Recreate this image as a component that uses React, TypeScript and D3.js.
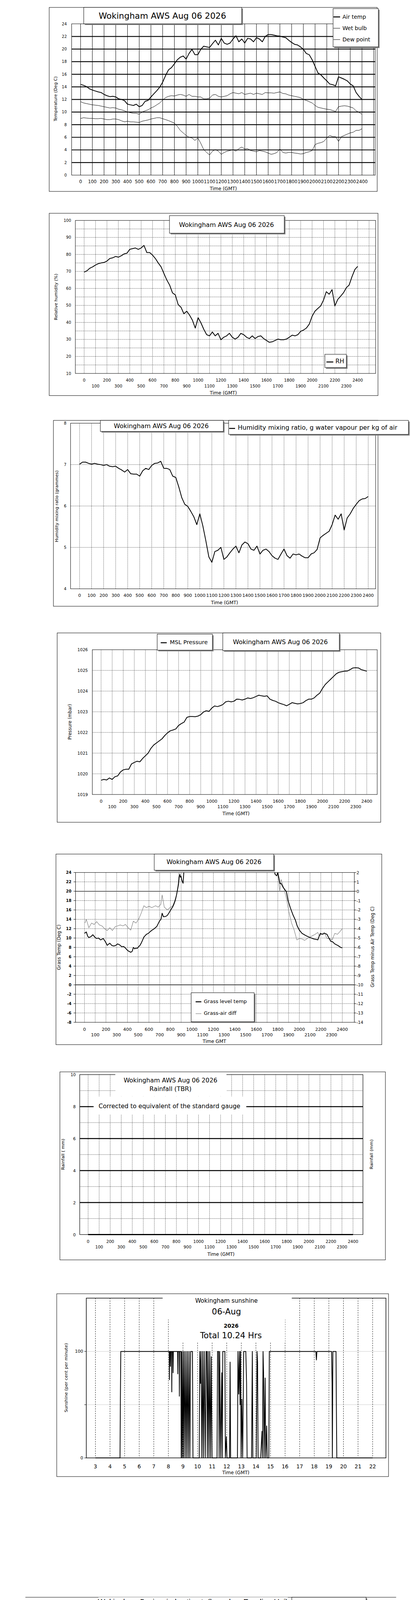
import { useEffect, useRef } from "react";
import * as d3 from "d3";

// ── Shared text / ticks ─────────────────────────────────────────────────────

const SANS = "'DejaVu Sans', sans-serif";
const ARIAL = "'Liberation Sans', Arial, sans-serif";
const TITLE = "Wokingham AWS Aug 06 2026";

const quarterTimes = d3.range(0, 2401, 25); // 15-min samples, hhmm units
const hhmmTicks = d3.range(0, 2501, 100);
const tempTicks = d3.range(0, 25, 2);
const rhTicks = d3.range(10, 101, 10);
const mixTicks = [4, 5, 6, 7, 8];
const presTicks = d3.range(1019, 1027, 1);
const grassTicks = d3.range(-8, 25, 2);
const diffTicks = d3.range(-14, 3, 1);
const rainTicks = d3.range(0, 11, 2);
const sunHours = d3.range(3, 23, 1);
const degTicks = d3.range(0, 401, 20);
const knotTicks = d3.range(0, 41, 2);

// ── Temperatures (deg C) every 15 min ───────────────────────────────────────

const airTemp = [
  14.4, 14.25, 14.05, 13.7, 13.5, 13.35, 13.2, 13.1, 12.8, 12.6, 12.45, 12.5,
  12.4, 12.1, 12.0, 11.8, 11.25, 11.15, 11.05, 11.25, 10.85, 11.05, 11.7, 11.85,
  12.4, 12.9, 13.4, 13.95, 14.75, 15.8, 16.7, 17.05, 17.65, 18.3, 18.7, 18.9,
  18.4, 19.3, 19.95, 19.1, 19.1, 19.95, 20.45, 20.35, 20.25, 20.85, 21.4, 20.65,
  21.7, 20.95, 20.75, 20.95, 21.6, 22.1, 21.15, 21.6, 20.95, 21.7, 21.6, 21.15,
  21.8, 21.6, 21.15, 22.0, 22.3, 22.3, 22.2, 22.1, 22.05, 21.9, 21.8, 21.4,
  21.05, 20.75, 20.65, 20.35, 19.95, 19.3, 19.1, 18.3, 17.25, 16.2, 15.9, 15.4,
  14.95, 14.45, 14.35, 14.15, 15.6, 15.4, 15.2, 14.95, 14.45, 14.15, 13.1, 12.5,
  12.0,
];

const wetBulb = [
  11.65, 11.45, 11.35, 11.25, 11.15, 11.1, 11.05, 10.95, 10.85, 10.75, 10.65, 10.7,
  10.65, 10.45, 10.35, 10.2, 10.0, 9.9, 9.8, 9.8, 9.65, 10.0, 10.2, 10.35,
  10.65, 10.85, 11.15, 11.45, 11.9, 12.3, 12.5, 12.6, 12.55, 12.7, 12.8, 12.7,
  12.5, 12.8, 12.5, 12.5, 12.4, 12.4, 12.1, 12.1, 12.2, 12.7, 12.8, 12.5,
  12.4, 12.5, 12.6, 12.9, 13.1, 13.0, 12.9, 13.1, 12.8, 12.9, 13.0, 12.8,
  13.0, 12.9, 12.8, 13.1, 13.05, 13.05, 13.0, 13.1, 13.2, 12.95, 12.9, 12.7,
  12.6, 12.5, 12.4, 12.3, 12.0, 11.85, 11.65, 11.45, 11.05, 10.75, 10.65, 10.55,
  10.45, 10.4, 10.25, 10.1, 10.85, 10.95, 11.0, 10.95, 10.8, 10.65, 10.2, 9.95,
  9.65,
];

const dewPoint = [
  8.98, 9.1, 9.05, 9.0, 9.0, 8.95, 8.95, 9.0, 8.9, 8.8, 8.8, 8.9,
  8.9, 8.8, 8.6, 8.45, 8.55, 8.45, 8.45, 8.4, 8.35, 8.55, 8.65, 8.75,
  8.9, 9.0, 9.1, 9.1, 8.95, 8.8, 8.65, 8.45, 8.25, 7.75, 7.1, 6.7,
  6.3, 6.0, 5.9, 5.5, 5.9, 5.05, 4.05, 3.6, 3.2, 3.8, 4.05, 3.8,
  3.3, 3.6, 3.8, 3.9, 4.05, 3.8, 4.2, 4.45, 4.15, 4.2, 3.9, 3.8,
  3.7, 3.9, 3.8, 3.7, 3.5, 3.3, 3.4, 3.6, 4.15, 3.6, 3.5, 3.6,
  3.6, 3.5, 3.45, 3.35, 3.4, 3.6, 3.7, 3.9, 4.85, 5.05, 5.15, 5.35,
  5.9, 6.3, 6.1, 6.1, 5.35, 6.1, 6.3, 6.5, 6.7, 6.8, 7.1, 7.1,
  7.35,
];

// ── Relative humidity (%) every 15 min ──────────────────────────────────────

const relHumidity = [
  69.6, 70.4, 71.9, 72.7, 73.8, 74.6, 75.0, 75.3, 76.1, 77.6, 78.0, 78.8,
  78.4, 79.2, 80.3, 80.7, 83.0, 83.4, 83.8, 83.0, 83.8, 85.3, 81.1, 81.1,
  79.6, 77.6, 75.0, 72.7, 68.8, 65.0, 62.0, 57.4, 56.2, 50.5, 48.9, 45.1,
  46.6, 44.3, 41.3, 36.7, 42.8, 39.7, 35.9, 32.8, 32.1, 34.4, 32.1, 33.6,
  29.8, 31.3, 32.1, 33.6, 31.3, 30.2, 31.3, 33.6, 32.8, 31.3, 30.5, 32.1,
  30.5, 31.7, 32.1, 30.5, 29.4, 28.3, 28.6, 29.4, 30.2, 29.8, 29.8, 30.2,
  31.3, 32.5, 32.1, 32.8, 34.8, 35.5, 36.7, 39.0, 43.6, 46.6, 48.2, 49.7,
  53.1, 58.1, 56.6, 59.3, 49.7, 53.5, 55.4, 57.4, 60.4, 62.0, 66.9, 71.1,
  73.0,
];

// ── Mixing ratio (g/kg) every 15 min ────────────────────────────────────────

const mixingRatio = [
  7.01, 7.06, 7.06, 7.03, 7.01, 7.03, 7.01, 7.0, 6.98, 7.0, 6.96, 6.95,
  6.96, 6.91, 6.87, 6.82, 6.88, 6.78, 6.77, 6.77, 6.72, 6.85, 6.91, 6.88,
  6.98, 7.03, 7.04, 7.08, 6.91, 6.91, 6.88, 6.72, 6.69, 6.46, 6.2, 6.04,
  5.99, 5.87, 5.74, 5.55, 5.81, 5.52, 5.16, 4.77, 4.64, 4.9, 4.93, 5.0,
  4.71, 4.77, 4.87, 4.96, 5.03, 4.87, 5.06, 5.13, 5.09, 4.96, 4.93, 5.03,
  4.84, 4.93, 4.96, 4.9, 4.8, 4.74, 4.71, 4.84, 4.96, 4.8, 4.74, 4.84,
  4.82, 4.84, 4.79, 4.75, 4.75, 4.84, 4.87, 4.95, 5.23, 5.29, 5.34, 5.39,
  5.55, 5.78, 5.68, 5.81, 5.42, 5.71, 5.81, 5.94, 6.04, 6.13, 6.17, 6.18,
  6.23,
];

// ── MSL pressure (mbar) every 15 min ────────────────────────────────────────

const mslPressure = [
  1019.69, 1019.73, 1019.7, 1019.8, 1019.73, 1019.86, 1019.9, 1020.09,
  1020.19, 1020.22, 1020.22, 1020.48, 1020.55, 1020.61, 1020.58, 1020.74,
  1020.87, 1021.0, 1021.23, 1021.39, 1021.49, 1021.59, 1021.69, 1021.85,
  1021.98, 1022.08, 1022.12, 1022.17, 1022.34, 1022.43, 1022.5, 1022.73,
  1022.77, 1022.77, 1022.76, 1022.79, 1022.86, 1022.99, 1023.05, 1023.02,
  1023.18, 1023.28, 1023.25, 1023.29, 1023.35, 1023.48, 1023.51, 1023.48,
  1023.51, 1023.61, 1023.6, 1023.57, 1023.61, 1023.67, 1023.64, 1023.68,
  1023.74, 1023.8, 1023.77, 1023.75, 1023.77, 1023.61, 1023.55, 1023.51,
  1023.44, 1023.39, 1023.35, 1023.29, 1023.36, 1023.44, 1023.41, 1023.38,
  1023.4, 1023.44, 1023.54, 1023.61, 1023.61, 1023.67, 1023.8, 1023.9,
  1024.13, 1024.32, 1024.45, 1024.58, 1024.71, 1024.84, 1024.91, 1024.94,
  1024.96, 1024.97, 1025.04, 1025.12, 1025.13, 1025.12, 1025.04, 1025.0,
  1024.96,
];

// ── Grass temperature [time, deg C] and grass-air difference [time, deg C] ──

const grassTemp: [number, number][] = [
  [0, 11.0], [17, 11.3], [30, 10.4], [41, 10.1], [60, 10.3], [78, 10.7], [100, 10.1],
  [114, 9.9], [130, 10.0], [151, 9.6], [175, 9.9], [195, 9.2], [212, 8.45], [236, 8.9],
  [255, 8.4], [273, 8.3], [290, 8.4], [309, 8.75], [330, 8.5], [346, 8.15], [365, 8.2],
  [382, 7.85], [395, 7.5], [407, 7.25], [420, 7.1], [431, 6.95], [445, 7.2], [455, 8.0],
  [468, 7.7], [480, 7.85], [492, 7.8], [504, 8.15], [516, 8.4], [528, 8.9], [540, 9.5],
  [553, 10.2], [565, 10.5], [577, 10.8], [595, 11.0], [613, 11.4], [630, 11.7], [650, 12.0],
  [674, 12.5], [699, 13.65], [712, 14.0], [723, 15.3], [735, 14.55], [755, 14.6], [772, 14.85],
  [790, 15.5], [808, 16.2], [820, 16.6], [833, 17.25], [845, 18.0], [857, 19.2], [866, 20.3],
  [876, 21.55], [882, 23.0], [888, 23.6], [893, 23.0], [899, 23.2], [905, 22.45], [912, 22.0],
  [918, 21.7], [922, 23.0], [927, 25.0], [940, 30], [1755, 30], [1765, 24.5], [1775, 23.6],
  [1790, 23.3], [1800, 24.0], [1810, 22.8], [1820, 21.6], [1830, 21.7], [1850, 20.8],
  [1870, 20.2], [1880, 19.9], [1895, 18.0], [1916, 16.5], [1940, 15.0], [1964, 13.8],
  [1980, 12.6], [2000, 11.7], [2025, 11.0], [2062, 10.5], [2100, 10.1], [2135, 9.8],
  [2160, 9.7], [2172, 9.6], [2185, 10.4], [2196, 11.0], [2215, 10.8], [2235, 11.0],
  [2257, 10.8], [2275, 10.0], [2293, 9.3], [2310, 9.2], [2330, 8.75], [2360, 8.4],
  [2385, 8.0], [2400, 7.9],
];

const grassAirDiff: [number, number][] = [
  [5, -3.4], [17, -3.0], [41, -3.9], [66, -3.4], [90, -3.55], [114, -3.25], [139, -3.6],
  [163, -3.7], [187, -4.0], [212, -4.2], [236, -3.9], [260, -4.2], [285, -3.8], [309, -3.7],
  [333, -3.6], [358, -3.7], [382, -3.55], [407, -3.9], [431, -4.15], [455, -3.2], [480, -3.4],
  [504, -3.0], [528, -2.35], [553, -1.55], [577, -1.75], [601, -1.6], [626, -1.75],
  [662, -1.55], [686, -1.7], [711, -1.4], [723, -0.4], [743, -1.7], [772, -2.0], [796, -1.75],
  [820, -1.6], [840, -1.0], [857, -0.4], [869, 0.5], [881, 2.0], [890, 3.5], [1785, 3.5],
  [1794, 2.0], [1806, 1.4], [1818, 0.0], [1830, 1.25], [1855, 0.35], [1879, -0.7],
  [1903, -2.2], [1928, -3.4], [1952, -4.15], [1977, -5.2], [2001, -5.05], [2026, -5.1],
  [2050, -5.25], [2074, -5.05], [2099, -4.9], [2123, -4.75], [2148, -4.6], [2172, -4.4],
  [2184, -4.75], [2208, -4.6], [2233, -4.4], [2257, -5.05], [2281, -5.05], [2306, -5.2],
  [2330, -4.5], [2355, -4.6], [2379, -4.3], [2400, -4.0],
];

// ── Rainfall (mm), hourly ───────────────────────────────────────────────────

const rainTimes = [0, 100, 200, 300, 400, 500, 600, 700, 800, 900, 1000, 1100, 1200,
  1300, 1400, 1500, 1600, 1700, 1800, 1900, 2000, 2100, 2200, 2300, 2400];
const rainfall = [0, 0, 0, 0, 0, 0, 0, 0, 0, 0, 0, 0, 0, 0, 0, 0, 0, 0, 0, 0, 0, 0, 0, 0, 0];

// ── Sunshine [hour, % per minute] ───────────────────────────────────────────

const sunshine: [number, number][] = [
  [3.0, 0], [4.685, 0], [4.71, 55], [4.739, 100], [8.06, 100], [8.073, 73.5], [8.09, 100],
  [8.13, 100], [8.144, 86], [8.16, 100], [8.22, 100], [8.234, 62], [8.25, 100], [8.31, 100],
  [8.323, 80], [8.34, 100], [8.63, 100], [8.646, 79], [8.66, 100], [8.74, 100], [8.754, 58],
  [8.77, 100], [8.86, 100], [8.879, 0], [8.915, 100], [8.951, 0], [9.005, 100], [9.04, 0],
  [9.094, 100], [9.148, 0], [9.202, 100], [9.256, 0], [9.309, 100], [9.363, 0], [9.417, 100],
  [9.471, 0], [9.524, 100], [9.65, 100], [9.686, 0], [10.116, 0], [10.152, 100], [10.205, 70],
  [10.241, 100], [10.295, 0], [10.349, 100], [10.403, 0], [10.456, 100], [10.528, 0],
  [10.582, 100], [10.636, 100], [10.671, 0], [10.725, 100], [10.779, 0], [10.833, 100],
  [10.887, 0], [10.94, 95], [10.994, 0], [11.335, 0], [11.371, 100], [11.442, 100],
  [11.478, 0], [11.514, 100], [11.586, 0], [11.657, 80], [11.693, 0], [11.729, 100],
  [11.872, 100], [11.908, 0], [11.98, 20], [12.016, 0], [12.195, 0], [12.231, 90], [12.267, 0],
  [12.733, 0], [12.769, 100], [12.822, 60], [12.876, 100], [12.912, 50], [12.948, 100],
  [12.984, 0], [13.037, 55], [13.091, 0], [13.163, 100], [13.306, 100], [13.36, 70],
  [13.396, 0], [13.7, 0], [13.754, 100], [13.79, 0], [14.023, 0], [14.077, 100], [14.113, 90],
  [14.149, 0], [14.328, 0], [14.418, 25], [14.453, 0], [14.489, 100], [14.525, 80], [14.561, 0],
  [14.633, 75], [14.668, 0], [14.74, 30], [14.776, 0], [14.884, 0], [14.919, 100],
  [14.973, 100], [18.11, 100], [18.146, 92], [18.182, 100], [19.185, 100], [19.221, 70],
  [19.239, 0], [19.275, 100], [19.49, 100], [19.508, 60], [19.544, 0], [22.0, 0],
];

// ── Wind: direction [time, deg], gust and 5-min mean [time, knots] ──────────

const windDir: [number, number][] = [
  [2, 248], [17, 242], [28, 235], [38, 238], [53, 247], [66, 241], [77, 250], [92, 256],
  [105, 258], [120, 260], [135, 257], [147, 260], [162, 250], [177, 254], [192, 257],
  [209, 254], [220, 248], [235, 241], [252, 247], [267, 243], [280, 237], [295, 244],
  [310, 239], [323, 244], [338, 248], [353, 244], [365, 248], [380, 251], [395, 255],
  [412, 258], [427, 251], [444, 247], [459, 243], [472, 246], [487, 251], [502, 256],
  [519, 251], [534, 257], [547, 259], [562, 256], [577, 254], [594, 244], [609, 251],
  [622, 256], [637, 259], [652, 260], [665, 263], [679, 266], [694, 257], [707, 265],
  [722, 273], [737, 259], [750, 273], [765, 274], [780, 276], [793, 275], [808, 292],
  [818, 307], [829, 295], [844, 286], [857, 267], [865, 272], [878, 286], [893, 298],
  [908, 280], [921, 278], [936, 273], [951, 280], [964, 302], [979, 282], [994, 317],
  [1006, 304], [1021, 295], [1036, 298], [1049, 304], [1064, 288], [1079, 276], [1092, 260],
  [1107, 288], [1122, 299], [1135, 272], [1150, 296], [1165, 312], [1178, 301], [1192, 292],
  [1207, 307], [1220, 299], [1235, 302], [1250, 295], [1263, 294], [1278, 282], [1293, 280],
  [1306, 285], [1321, 283], [1335, 302], [1348, 291], [1363, 273], [1378, 283], [1391, 295],
  [1406, 283], [1421, 307], [1434, 292], [1449, 295], [1464, 301], [1477, 304], [1491, 315],
  [1502, 330], [1513, 320], [1524, 294], [1534, 343], [1545, 333], [1556, 321], [1566, 308],
  [1577, 318], [1592, 302], [1605, 286], [1620, 276], [1635, 285], [1647, 289], [1662, 282],
  [1677, 289], [1694, 295], [1709, 286], [1726, 280], [1737, 266], [1754, 288], [1769, 280],
  [1784, 266], [1801, 273], [1818, 286], [1833, 280], [1848, 285], [1861, 282], [1876, 273],
  [1891, 296], [1904, 286], [1919, 280], [1934, 270], [1951, 272], [1966, 254], [1979, 243],
  [1994, 256], [2009, 240], [2019, 237], [2032, 237], [2047, 237], [2062, 237], [2075, 240],
  [2090, 237], [2101, 248], [2111, 257], [2126, 256], [2139, 251], [2154, 251], [2165, 247],
  [2175, 251], [2190, 257], [2205, 254], [2220, 254], [2235, 258], [2248, 264], [2263, 273],
  [2274, 279], [2286, 280], [2295, 288], [2305, 292], [2316, 280], [2327, 276], [2338, 272],
  [2348, 280], [2363, 292], [2376, 288], [2391, 299], [2402, 310],
];

const windGust: [number, number][] = [
  [0, 6.1], [11, 6.1], [24, 6.25], [32, 8.2], [41, 7.4], [49, 8.6], [58, 6.65], [66, 6.0],
  [75, 7.7], [83, 6.65], [92, 6.65], [100, 8.35], [109, 6.25], [120, 6.1], [130, 7.05],
  [139, 6.25], [152, 7.45], [162, 7.95], [173, 7.85], [184, 8.35], [194, 8.35], [205, 7.85],
  [216, 6.65], [226, 6.25], [237, 5.6], [248, 4.55], [259, 6.65], [267, 8.1], [278, 6.9],
  [288, 6.25], [299, 7.85], [310, 5.85], [321, 7.15], [331, 8.1], [342, 6.65], [353, 7.3],
  [363, 7.95], [374, 7.05], [385, 7.7], [395, 7.05], [406, 7.7], [417, 5.6], [427, 4.55],
  [438, 3.5], [449, 5.05], [459, 5.85], [470, 6.5], [481, 6.65], [491, 6.1], [502, 7.85],
  [513, 6.5], [523, 5.6], [534, 3.5], [545, 1.4], [553, 2.7], [564, 4.55], [575, 5.05],
  [583, 6.65], [594, 8.6], [605, 7.15], [615, 6.9], [626, 6.65], [637, 9.15], [647, 9.0],
  [658, 7.15], [669, 8.1], [679, 6.1], [690, 8.9], [701, 10.3], [712, 10.05], [722, 9.4],
  [733, 12.3], [743, 8.9], [754, 11.9], [765, 9.4], [775, 9.0], [786, 5.35], [797, 10.3],
  [808, 12.95], [818, 14.4], [829, 11.65], [840, 12.15], [851, 16.25], [861, 14.25],
  [872, 15.3], [882, 12.15], [893, 14.65], [904, 10.3], [915, 14.0], [925, 14.15],
  [936, 11.65], [947, 12.95], [957, 11.1], [968, 14.25], [979, 16.9], [989, 18.3],
  [1000, 15.6], [1011, 17.4], [1021, 17.7], [1032, 20.95], [1043, 16.6], [1053, 14.8],
  [1064, 14.25], [1075, 14.5], [1085, 16.4], [1096, 20.2], [1107, 16.1], [1118, 17.15],
  [1128, 15.6], [1139, 16.6], [1150, 17.7], [1160, 19.0], [1171, 15.3], [1182, 17.15],
  [1192, 19.4], [1203, 15.3], [1214, 14.0], [1224, 10.6], [1235, 13.5], [1246, 17.9],
  [1256, 15.85], [1267, 15.3], [1278, 14.5], [1288, 13.9], [1299, 12.3], [1310, 15.85],
  [1321, 11.65], [1331, 12.95], [1342, 13.5], [1353, 14.25], [1363, 13.1], [1374, 14.25],
  [1385, 16.1], [1395, 14.8], [1406, 11.4], [1417, 14.0], [1428, 14.25], [1438, 12.95],
  [1449, 14.0], [1460, 12.45], [1470, 15.85], [1481, 13.5], [1492, 12.95], [1502, 13.2],
  [1513, 12.7], [1524, 12.15], [1534, 16.4], [1545, 14.25], [1556, 10.85], [1566, 14.0],
  [1577, 10.3], [1588, 15.7], [1598, 13.2], [1609, 8.2], [1620, 15.6], [1630, 12.95],
  [1641, 11.9], [1652, 10.6], [1662, 11.65], [1673, 11.9], [1684, 12.95], [1695, 14.15],
  [1705, 10.85], [1716, 10.85], [1726, 10.3], [1737, 10.7], [1748, 10.6], [1759, 10.85],
  [1769, 12.15], [1780, 11.4], [1791, 8.2], [1801, 10.6], [1812, 9.55], [1823, 9.0],
  [1833, 9.55], [1844, 8.2], [1855, 7.15], [1865, 10.3], [1876, 7.45], [1887, 5.6],
  [1897, 6.65], [1908, 5.6], [1919, 5.05], [1929, 4.55], [1940, 4.15], [1951, 4.3],
  [1961, 2.95], [1972, 1.65], [1983, 1.8], [1994, 1.4], [2004, 2.45], [2015, 1.65],
  [2026, 1.4], [2036, 1.65], [2047, 2.2], [2058, 2.85], [2068, 2.2], [2079, 1.8], [2090, 1.4],
  [2100, 2.2], [2111, 2.45], [2122, 3.25], [2132, 3.9], [2143, 4.3], [2154, 5.35],
  [2164, 7.95], [2175, 7.15], [2186, 8.75], [2197, 6.1], [2207, 5.85], [2218, 5.6],
  [2229, 6.1], [2239, 5.35], [2250, 6.1], [2261, 5.05], [2271, 5.35], [2282, 5.6],
  [2293, 5.05], [2303, 7.7], [2314, 6.1], [2325, 5.35], [2335, 5.45], [2346, 4.55],
  [2357, 3.5], [2368, 2.95], [2378, 2.2], [2389, 2.3], [2400, 1.9],
];

const windMean: [number, number][] = [
  [0, 3.6], [11, 3.9], [24, 4.4], [38, 4.7], [49, 4.4], [60, 4.0], [71, 4.4], [85, 4.95],
  [98, 4.7], [113, 4.7], [124, 4.4], [135, 4.4], [145, 4.0], [156, 4.95], [169, 5.75],
  [177, 5.6], [188, 5.05], [199, 4.8], [209, 4.95], [220, 4.55], [231, 3.9], [241, 2.95],
  [252, 4.0], [263, 4.7], [274, 4.55], [284, 4.0], [295, 3.9], [306, 4.15], [316, 4.4],
  [327, 4.55], [338, 4.4], [348, 4.15], [359, 4.3], [370, 4.15], [380, 4.15], [391, 4.55],
  [402, 4.7], [412, 4.0], [423, 2.95], [434, 2.45], [444, 2.95], [455, 3.75], [466, 3.6],
  [476, 4.0], [487, 4.0], [498, 4.3], [509, 4.7], [519, 3.5], [530, 2.7], [541, 1.4],
  [551, 2.95], [562, 3.1], [573, 3.25], [583, 4.0], [594, 4.8], [605, 5.35], [615, 4.3],
  [626, 4.15], [637, 4.55], [647, 5.75], [658, 5.6], [669, 5.05], [679, 4.0], [690, 4.8],
  [701, 5.6], [712, 7.05], [722, 6.1], [733, 6.65], [743, 7.15], [754, 8.2], [765, 8.75],
  [775, 8.35], [786, 5.35], [797, 5.35], [808, 6.65], [818, 9.0], [829, 8.2], [840, 6.65],
  [851, 7.95], [861, 8.6], [872, 9.4], [882, 7.7], [893, 8.35], [904, 7.95], [915, 8.5],
  [925, 9.15], [936, 8.5], [947, 8.2], [957, 8.9], [968, 9.3], [979, 9.55], [989, 8.6],
  [1000, 8.75], [1011, 10.2], [1021, 9.95], [1032, 9.55], [1043, 9.55], [1053, 8.2],
  [1064, 8.35], [1075, 9.15], [1085, 9.8], [1096, 11.0], [1107, 10.3], [1118, 9.15],
  [1128, 9.0], [1139, 9.4], [1150, 10.3], [1160, 11.5], [1171, 8.35], [1182, 9.3],
  [1192, 10.3], [1203, 9.55], [1214, 8.75], [1224, 6.8], [1235, 8.5], [1246, 10.05],
  [1256, 10.3], [1267, 9.0], [1278, 8.2], [1288, 8.9], [1299, 8.75], [1310, 7.05],
  [1321, 9.3], [1331, 8.1], [1342, 8.1], [1353, 9.0], [1363, 8.1], [1374, 9.15], [1385, 9.55],
  [1395, 9.15], [1406, 8.2], [1417, 7.15], [1428, 8.9], [1438, 7.7], [1449, 9.3], [1460, 9.8],
  [1470, 7.7], [1481, 8.2], [1492, 7.15], [1502, 7.45], [1513, 6.65], [1524, 7.15],
  [1534, 6.9], [1545, 8.2], [1556, 6.65], [1566, 6.0], [1577, 7.15], [1588, 7.7], [1598, 8.5],
  [1609, 7.15], [1620, 5.75], [1630, 7.95], [1641, 6.9], [1652, 6.25], [1662, 6.4],
  [1673, 6.65], [1684, 6.5], [1695, 6.9], [1705, 6.65], [1716, 7.05], [1726, 8.2], [1737, 7.7],
  [1748, 6.9], [1759, 7.15], [1769, 6.65], [1780, 6.8], [1791, 6.4], [1801, 6.1], [1812, 6.0],
  [1823, 6.1], [1833, 5.6], [1844, 4.8], [1855, 4.55], [1865, 6.0], [1876, 5.05], [1887, 4.0],
  [1897, 3.25], [1908, 3.9], [1919, 3.25], [1929, 3.1], [1940, 2.95], [1951, 2.7],
  [1961, 2.45], [1972, 1.9], [1983, 2.3], [1994, 1.4], [2004, 1.0], [2015, 1.15], [2026, 1.25],
  [2036, 1.5], [2047, 1.65], [2058, 1.8], [2068, 1.5], [2079, 1.4], [2090, 1.25], [2100, 1.4],
  [2111, 1.65], [2122, 2.45], [2132, 3.75], [2143, 4.0], [2154, 4.55], [2164, 5.6],
  [2175, 5.05], [2186, 4.55], [2197, 4.15], [2207, 3.9], [2218, 3.6], [2229, 3.5], [2239, 3.1],
  [2250, 2.95], [2261, 3.35], [2271, 2.95], [2282, 3.25], [2293, 3.6], [2303, 4.55],
  [2314, 4.3], [2325, 3.9], [2335, 3.5], [2346, 2.95], [2357, 2.7], [2368, 2.05], [2378, 1.4],
  [2389, 1.5], [2400, 1.5],
];

// ── Drawing helpers ─────────────────────────────────────────────────────────

type G = d3.Selection<SVGGElement, unknown, null, undefined>;
type Defs = d3.Selection<SVGDefsElement, unknown, null, undefined>;
type Pt = [number, number];

const zip = (ts: number[], vs: number[]): Pt[] => vs.map((v, i) => [ts[i], v]);

function seg(g: G, x1: number, y1: number, x2: number, y2: number, stroke = "#000", width = 1, dash?: string) {
  const l = g.append("line")
    .attr("x1", x1).attr("y1", y1).attr("x2", x2).attr("y2", y2)
    .attr("stroke", stroke).attr("stroke-width", width);
  if (dash) l.attr("stroke-dasharray", dash);
}

function rect(g: G, x0: number, y0: number, x1: number, y1: number, opts: { shadow?: boolean; border?: boolean } = {}) {
  if (opts.shadow) {
    g.append("rect").attr("x", x0 + 3).attr("y", y0 + 3)
      .attr("width", x1 - x0).attr("height", y1 - y0).attr("fill", "#808080");
  }
  g.append("rect").attr("x", x0).attr("y", y0)
    .attr("width", x1 - x0).attr("height", y1 - y0)
    .attr("fill", "#fff")
    .attr("stroke", opts.border === false ? "none" : "#000").attr("stroke-width", 1);
}

function outline(g: G, x0: number, y0: number, x1: number, y1: number, width = 1) {
  g.append("rect").attr("x", x0).attr("y", y0)
    .attr("width", x1 - x0).attr("height", y1 - y0)
    .attr("fill", "none").attr("stroke", "#000").attr("stroke-width", width);
}

function label(
  g: G, x: number, y: number, s: string, size: number,
  o: { anchor?: string; weight?: string; rotate?: number; family?: string; fill?: string } = {},
) {
  const t = g.append("text")
    .attr("transform", `translate(${x},${y})${o.rotate ? ` rotate(${o.rotate})` : ""}`)
    .attr("text-anchor", o.anchor ?? "middle")
    .attr("dominant-baseline", "central")
    .attr("font-family", o.family ?? SANS)
    .attr("font-size", size)
    .attr("fill", o.fill ?? "#000")
    .text(s);
  if (o.weight) t.attr("font-weight", o.weight);
}

function clip(defs: Defs, id: string, x0: number, y0: number, x1: number, y1: number) {
  defs.append("clipPath").attr("id", id).append("rect")
    .attr("x", x0).attr("y", y0).attr("width", x1 - x0).attr("height", y1 - y0);
  return `url(#${id})`;
}

function trace(
  g: G, pts: Pt[], x: d3.ScaleLinear<number, number>, y: d3.ScaleLinear<number, number>,
  stroke: string, width: number, clipUrl?: string,
) {
  const p = g.append("path").datum(pts)
    .attr("fill", "none").attr("stroke", stroke).attr("stroke-width", width)
    .attr("stroke-linejoin", "round")
    .attr("d", d3.line<Pt>().x((d) => x(d[0])).y((d) => y(d[1])));
  if (clipUrl) p.attr("clip-path", clipUrl);
}

const DOT = "1,1.5";

// Even hundreds on the first row, odd hundreds on the second
function twoRowTimes(g: G, x: d3.ScaleLinear<number, number>, y1: number, y2: number, size: number) {
  hhmmTicks.filter((t) => t <= 2400).forEach((t) => {
    label(g, x(t), (t / 100) % 2 === 0 ? y1 : y2, String(t), size);
  });
}

// ── Panel 1: temperatures ───────────────────────────────────────────────────

function drawTemperature(g: G, defs: Defs) {
  const P = { l: 183.5, r: 961, t: 61, b: 448.3 };
  const x = d3.scaleLinear().domain([0, 2400]).range([206.4, 927]);
  const y = d3.scaleLinear().domain([0, 24]).range([P.b, P.t]);
  rect(g, 126, 19, 966, 490);
  hhmmTicks.filter((t) => x(t) < P.r - 3).forEach((t) => seg(g, x(t), P.t, x(t), P.b, "#000", 1));
  tempTicks.filter((v) => v > 0 && v < 24).forEach((v) => seg(g, P.l, y(v), P.r, y(v), "#000", 2.2));
  outline(g, P.l, P.t, P.r, P.b);
  tempTicks.forEach((v) => label(g, 171, y(v), String(v), 10, { anchor: "end" }));
  hhmmTicks.filter((t) => t <= 2400).forEach((t) => label(g, x(t), 465, String(t), 11.5));
  label(g, 572, 483, "Time (GMT)", 12);
  label(g, 142, 253, "Temperature (Deg C)", 11, { rotate: -90 });

  const c = clip(defs, "clip-temp", P.l, P.t, P.r, P.b);
  trace(g, zip(quarterTimes, dewPoint), x, y, "#000", 1, c);
  trace(g, zip(quarterTimes, wetBulb), x, y, "#000", 1, c);
  trace(g, zip(quarterTimes, airTemp), x, y, "#000", 2, c);

  rect(g, 214.5, 19, 619, 61, { shadow: true });
  label(g, 416, 40.5, TITLE, 21.5);
  rect(g, 853, 22, 969, 120, { shadow: true });
  const rows: [string, number][] = [["Air temp", 2.5], ["Wet bulb", 1], ["Dew point", 1]];
  rows.forEach(([name, w], i) => {
    const yy = 43.3 + i * 29;
    seg(g, 854, yy, 871, yy, "#000", w);
    label(g, 877, yy, name, 14, { anchor: "start" });
  });
}

// ── Panel 2: relative humidity ──────────────────────────────────────────────

function drawHumidity(g: G, defs: Defs) {
  const P = { l: 193, r: 962, t: 564.3, b: 956 };
  const x = d3.scaleLinear().domain([0, 2400]).range([215.5, 916]);
  const y = d3.scaleLinear().domain([10, 100]).range([P.b, P.t]);
  rect(g, 126, 546, 968, 1012.7);
  hhmmTicks.filter((t) => x(t) < P.r - 3).forEach((t) => seg(g, x(t), P.t, x(t), P.b, "#000", 1, DOT));
  d3.range(15, 100, 5).forEach((v) => seg(g, P.l, y(v), P.r, y(v), "#000", 1, DOT));
  outline(g, P.l, P.t, P.r, P.b);
  rhTicks.forEach((v) => label(g, 182, y(v), String(v), 10, { anchor: "end" }));
  twoRowTimes(g, x, 973, 988, 10.5);
  label(g, 572, 1006, "Time (GMT)", 12);
  label(g, 143, 760, "Relative humidity (%)", 11, { rotate: -90 });

  trace(g, zip(quarterTimes, relHumidity), x, y, "#000", 2, clip(defs, "clip-rh", P.l, P.t, P.r, P.b));

  rect(g, 434, 552, 728, 597, { shadow: true });
  label(g, 580, 575, TITLE, 16);
  rect(g, 832, 907, 887, 941, { shadow: true });
  seg(g, 836, 926.7, 853.5, 926.7, "#000", 2.5);
  label(g, 859, 925, "RH", 15.5, { anchor: "start" });
}

// ── Panel 3: mixing ratio ───────────────────────────────────────────────────

function drawMixing(g: G, defs: Defs) {
  const P = { l: 180.7, r: 962, t: 1083.4, b: 1507.3 };
  const x = d3.scaleLinear().domain([0, 2400]).range([203.75, 943]);
  const y = d3.scaleLinear().domain([4, 8]).range([P.b, P.t]);
  rect(g, 136.8, 1076.2, 968, 1552);
  hhmmTicks.filter((t) => x(t) < P.r - 3).forEach((t) => seg(g, x(t), P.t, x(t), P.b, "#000", 1, DOT));
  [5, 6, 7].forEach((v) => seg(g, P.l, y(v), P.r, y(v), "#000", 1, DOT));
  outline(g, P.l, P.t, P.r, P.b);
  mixTicks.forEach((v) => label(g, 170, y(v), String(v), 10, { anchor: "end" }));
  hhmmTicks.filter((t) => t <= 2400).forEach((t) => label(g, x(t), 1524, String(t), 11.2));
  label(g, 575, 1543, "Time (GMT)", 12);
  label(g, 145, 1296, "Humidity mixing ratio (grammes)", 11, { rotate: -90 });

  trace(g, zip(quarterTimes, mixingRatio), x, y, "#000", 2, clip(defs, "clip-mr", P.l, P.t, P.r, P.b));

  rect(g, 257, 1076.2, 572, 1104.4, { shadow: true });
  label(g, 413, 1090.5, TITLE, 16);
  rect(g, 585.6, 1076.2, 1046, 1112, { shadow: true });
  seg(g, 587, 1096.8, 602, 1096.8, "#000", 2.5);
  label(g, 609, 1094, "Humidity mixing ratio, g water vapour per kg of air", 16, { anchor: "start" });
}

// ── Panel 4: pressure ───────────────────────────────────────────────────────

function drawPressure(g: G, defs: Defs) {
  const P = { l: 236.4, r: 966, t: 1663.3, b: 2033.9 };
  const x = d3.scaleLinear().domain([0, 2400]).range([258.9, 939.3]);
  const y = d3.scaleLinear().domain([1019, 1026]).range([P.b, P.t]);
  rect(g, 146.4, 1620.3, 975, 2105);
  hhmmTicks.filter((t) => x(t) < P.r - 3).forEach((t) => seg(g, x(t), P.t, x(t), P.b, "#000", 1, DOT));
  presTicks.filter((v) => v > 1019 && v < 1026).forEach((v) => seg(g, P.l, y(v), P.r, y(v), "#000", 1, DOT));
  outline(g, P.l, P.t, P.r, P.b);
  presTicks.forEach((v) => label(g, 225, y(v), String(v), 10.5, { anchor: "end" }));
  twoRowTimes(g, x, 2051, 2065.5, 11);
  label(g, 604.5, 2083.4, "Time (GMT)", 12);
  label(g, 178.6, 1848, "Pressure (mbar)", 11.4, { rotate: -90 });

  trace(g, zip(quarterTimes, mslPressure), x, y, "#000", 2, clip(defs, "clip-p", P.l, P.t, P.r, P.b));

  rect(g, 402.5, 1623.4, 544, 1664.4, { shadow: true });
  seg(g, 411.6, 1645.4, 427, 1645.4, "#000", 2.5);
  label(g, 435, 1643.5, "MSL Pressure", 14.6, { anchor: "start" });
  rect(g, 570.6, 1620.3, 869, 1665.4, { shadow: true });
  label(g, 718, 1643, TITLE, 16);
}

// ── Panel 5: grass temperature ──────────────────────────────────────────────

function drawGrass(g: G, defs: Defs) {
  const P = { l: 193.5, r: 907.4, t: 2233.6, b: 2617.1 };
  const x = d3.scaleLinear().domain([0, 2400]).range([216.3, 876.6]);
  const y = d3.scaleLinear().domain([-8, 24]).range([P.b, P.t]);
  const yR = d3.scaleLinear().domain([-14, 2]).range([P.b, P.t]);
  rect(g, 143.3, 2186.4, 977.7, 2674.3);
  hhmmTicks.filter((t) => x(t) < P.r - 5).forEach((t) => seg(g, x(t), P.t, x(t), P.b, "#000", 1, DOT));
  grassTicks.filter((v) => v > -8 && v < 24).forEach((v) => {
    if (v === 0 || v === 20) seg(g, P.l, y(v), P.r, y(v), "#000", 1.3);
    else seg(g, P.l, y(v), P.r, y(v), "#000", 1, DOT);
  });
  outline(g, P.l, P.t, P.r, P.b);
  grassTicks.forEach((v) => {
    seg(g, P.l - 5, y(v), P.l, y(v));
    label(g, 183, y(v), String(v), 10, { anchor: "end", weight: "bold" });
  });
  diffTicks.forEach((v) => {
    seg(g, P.r, yR(v), P.r + 5, yR(v));
    label(g, 913, yR(v), String(v), 10.5, { anchor: "start" });
  });
  twoRowTimes(g, x, 2635, 2649.3, 11.3);
  label(g, 549, 2666, "Time GMT", 12);
  label(g, 151, 2425, "Grass Temp (Deg C)", 11.7, { rotate: -90 });
  label(g, 954, 2424, "Grass Temp minus Air Temp (Deg C)", 11.5, { rotate: -90 });

  const c = clip(defs, "clip-grass", P.l, P.t, P.r, P.b);
  trace(g, grassAirDiff, x, yR, "#808080", 1.2, c);
  trace(g, grassTemp, x, y, "#000", 2, c);

  rect(g, 395, 2186.4, 701, 2227.9, { shadow: true });
  label(g, 548, 2206.4, TITLE, 16);
  rect(g, 489.5, 2541.4, 651, 2615.7, { shadow: true });
  seg(g, 501, 2564.6, 515.6, 2564.6, "#000", 2.5);
  label(g, 522, 2563, "Grass level temp", 13, { anchor: "start" });
  seg(g, 501, 2595, 515.6, 2595, "#808080", 1.2);
  label(g, 522, 2593, "Grass-air diff", 13, { anchor: "start" });
}

// ── Panel 6: rainfall ───────────────────────────────────────────────────────

function drawRain(g: G, defs: Defs) {
  const P = { l: 204.2, r: 929.5, t: 2751, b: 3160.5 };
  const x = d3.scaleLinear().domain([0, 2400]).range([225.7, 904]);
  const y = d3.scaleLinear().domain([0, 10]).range([P.b, P.t]);
  rect(g, 153.4, 2744, 987, 3225.3);
  hhmmTicks.filter((t) => x(t) < P.r - 3).forEach((t) => seg(g, x(t), P.t, x(t), P.b, "#000", 1, DOT));
  [1, 3, 5, 7, 9].forEach((v) => seg(g, P.l, y(v), P.r, y(v), "#000", 1, DOT));
  [2, 4, 6, 8].forEach((v) => seg(g, P.l, y(v), P.r, y(v), "#000", 2.5));
  outline(g, P.l, P.t, P.r, P.b, 1.2);
  rainTicks.forEach((v) => label(g, 194, y(v), String(v), 10.5, { anchor: "end" }));
  twoRowTimes(g, x, 3178, 3192.3, 10.5);
  label(g, 566, 3211, "Time (GMT)", 12);
  label(g, 161, 2955, "Rainfall ( mm)", 11.3, { rotate: -90 });
  label(g, 951, 2955, "Rainfall (mm)", 11.3, { rotate: -90 });

  trace(g, zip(rainTimes, rainfall), x, y, "#000", 3, clip(defs, "clip-rain", P.l, P.t - 2, P.r, P.b + 2));

  rect(g, 295.3, 2747, 580, 2806.7, { border: false });
  label(g, 436.6, 2765, TITLE, 15.8);
  label(g, 436.6, 2787.3, "Rainfall (TBR)", 15.8);
  rect(g, 239.7, 2806.7, 630.8, 2853.3, { border: false });
  label(g, 434, 2831.7, "Corrected to equivalent of the standard gauge", 15.6);
}

// ── Panel 7: sunshine ───────────────────────────────────────────────────────

function drawSunshine(g: G, defs: Defs) {
  const P = { l: 221, r: 988.4, t: 3323.3, b: 3732.3 };
  const x = d3.scaleLinear().domain([3, 22]).range([244.4, 954.3]);
  const y = d3.scaleLinear().domain([0, 150]).range([P.b, P.t]);
  rect(g, 145.3, 3312, 995, 3780);
  sunHours.forEach((h) => seg(g, x(h), P.t, x(h), P.b, "#000", 1, "3,3"));
  [50, 100].forEach((v) => seg(g, P.l, y(v), P.r, y(v), "#999", 1, "1,1"));
  outline(g, P.l, P.t, P.r, P.b, 1.5);
  [0, 50, 100].forEach((v) => seg(g, P.l - 5, y(v), P.l, y(v)));
  [0, 100].forEach((v) => label(g, 213, y(v), String(v), 11, { anchor: "end" }));
  sunHours.forEach((h) => label(g, x(h), 3753.5, String(h), 13.5));
  label(g, 604, 3770, "Time (GMT)", 12);
  label(g, 169.4, 3527, "Sunshine (per cent per minute)", 11.3, { rotate: -90 });

  rect(g, 416.5, 3318, 747.3, 3378, { border: false });
  rect(g, 433, 3378, 730, 3435, { border: false });
  label(g, 580, 3330, "Wokingham sunshine", 15);
  label(g, 580, 3357.7, "06-Aug", 21);
  label(g, 592, 3394, "2026", 13.7, { weight: "bold" });
  label(g, 591.5, 3419, "Total 10.24 Hrs", 21);

  trace(g, sunshine, x, y, "#000", 2, clip(defs, "clip-sun", P.l, P.t, P.r, P.b + 2));
}

// ── Panel 8: wind ───────────────────────────────────────────────────────────

function drawWind(g: G, defs: Defs) {
  const P = { l: 139.3, r: 944.2, t: 4103.6, b: 4611 };
  const x = d3.scaleLinear().domain([0, 2400]).range([165.4, 917.4]);
  const y = d3.scaleLinear().domain([0, 400]).range([P.b, P.t]);
  const yK = d3.scaleLinear().domain([0, 40]).range([P.b, P.t]);
  seg(g, 65, 4089, 1014.5, 4089, "#000", 1.2);
  seg(g, 65, 4697, 1014.5, 4697, "#000", 1.2);
  hhmmTicks.filter((t) => t <= 2400).forEach((t) => seg(g, x(t), P.t, x(t), P.b, "#000", 1, "2,2"));
  degTicks.filter((v) => v > 0).forEach((v) => seg(g, P.l, y(v), P.r, y(v), "#000", 1.6));
  seg(g, P.l, P.b, P.r, P.b, "#000", 1.2);
  seg(g, P.l, P.t, P.l, P.b, "#000", 1);
  seg(g, P.r, P.t, P.r, P.b, "#000", 1);
  degTicks.forEach((v) => label(g, 127, y(v), String(v), 9.5, { anchor: "end", family: ARIAL }));
  knotTicks.forEach((v) => label(g, 953, yK(v), String(v), 9.5, { anchor: "start", family: ARIAL }));
  hhmmTicks.filter((t) => t <= 2400).forEach((t) => label(g, x(t), 4632, String(t), 9.5, { family: ARIAL }));
  label(g, 300, 4662, "Time, hours GMT", 12, { family: ARIAL });
  label(g, 87, 4357, "Degrees", 14.5, { rotate: -90 });
  label(g, 990, 4357, "knots", 13, { rotate: -90 });

  rect(g, 252, 4089, 737, 4138.7, { border: false });
  label(g, 494, 4100.6, "Wokingham 5 min wind estimate(based on Reading Uni)", 19.5, { family: ARIAL });
  label(g, 494, 4126.5, "20260806", 15.7, { family: ARIAL, weight: "bold" });

  const c = clip(defs, "clip-wind", P.l, P.t, P.r, P.b);
  trace(g, windMean.map(([t, v]) => [t, v * 10] as Pt), x, y, "#6e6e6e", 2, c);
  trace(g, windGust.map(([t, v]) => [t, v * 10] as Pt), x, y, "#000", 1, c);
  g.append("g").selectAll("circle").data(windDir).join("circle")
    .attr("cx", (d) => x(d[0])).attr("cy", (d) => y(d[1])).attr("r", 3)
    .attr("fill", "#474747").attr("stroke", "#111").attr("stroke-width", 0.7);

  rect(g, 747.3, 4089, 937.5, 4141.3, { shadow: true });
  g.append("circle").attr("cx", 753.5).attr("cy", 4103.6).attr("r", 3)
    .attr("fill", "#474747").attr("stroke", "#111").attr("stroke-width", 0.7);
  label(g, 765, 4103.6, "Dirn", 10.6, { anchor: "start", family: ARIAL });
  seg(g, 850.5, 4104.7, 864, 4104.7, "#6e6e6e", 2.5);
  label(g, 868.5, 4103.6, "5 min mean sp", 10.6, { anchor: "start", family: ARIAL });
  seg(g, 748.7, 4129.5, 755.4, 4129.5, "#000", 1);
  label(g, 765, 4129.5, "gust", 10.6, { anchor: "start", family: ARIAL });
}

// Each panel gets its own page band (its own <svg>), drawn in page coordinates.
const bands: [number, number, (g: G, defs: Defs) => void][] = [
  [0, 500, drawTemperature],
  [500, 1030, drawHumidity],
  [1030, 1570, drawMixing],
  [1570, 2120, drawPressure],
  [2120, 2690, drawGrass],
  [2690, 3240, drawRain],
  [3240, 3800, drawSunshine],
  [3800, 4720, drawWind],
];

export default function App() {
  const ref = useRef<HTMLDivElement>(null);

  useEffect(() => {
    if (!ref.current) return;
    const root = d3.select(ref.current);
    root.selectAll("*").remove();
    bands.forEach(([top, bottom, draw]) => {
      const svg = root.append("svg")
        .attr("width", 1050).attr("height", bottom - top)
        .style("position", "absolute").style("left", "0px").style("top", `${top}px`)
        .style("display", "block");
      const defs = svg.append("defs");
      draw(svg.append("g").attr("transform", `translate(0,${-top})`), defs);
    });
  }, []);

  return (
    <div
      ref={ref}
      style={{ position: "absolute", left: 0, top: 0, width: 1050, height: 5085, background: "#fff" }}
    />
  );
}
